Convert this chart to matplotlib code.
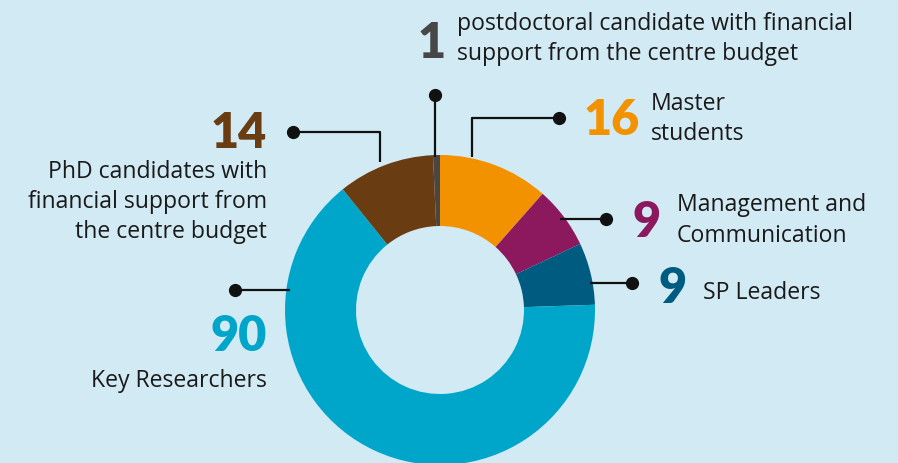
import matplotlib
matplotlib.use("Agg")
import matplotlib.pyplot as plt

# ---- data ----
categories = ["postdoc", "Master", "Management", "SP Leaders", "Key Researchers", "PhD"]
values = [1, 16, 9, 9, 90, 14]
colors = ["#474747", "#f39200", "#8c195e", "#005b80", "#00a6c9", "#6a3c12"]
numbers = ["1", "16", "9", "9", "90", "14"]
descriptions = [
    ["postdoctoral candidate with financial", "support from the centre budget"],
    ["Master", "students"],
    ["Management and", "Communication"],
    ["SP Leaders"],
    ["Key Researchers"],
    ["PhD candidates with", "financial support from", "the centre budget"],
]

BG = "#d2eaf3"
W, H = 898, 463
fig = plt.figure(figsize=(W / 100, H / 100), dpi=100, facecolor=BG)
ax = fig.add_axes([0, 0, 1, 1])
ax.set_facecolor(BG)

def Y(y):  # pixel-from-top -> data y
    return H - y

cx, cy, R, ring = 440, 310, 155, 71
total = sum(values)
start = 90 + 360 * values[0] / total
ax.pie(values, colors=colors, startangle=start, counterclock=False,
       center=(cx, Y(cy)), radius=R,
       wedgeprops=dict(width=ring, edgecolor="none", linewidth=0), frame=True)
ax.set_xlim(0, W)
ax.set_ylim(0, H)
ax.set_aspect("equal")
ax.axis("off")

num_font = "Lato"
txt_font = "Open Sans"
num_size = 35
txt_size = 16.6
lw = 1.6
ms = 8.5

# leader lines (pixel coords from top)
leaders = [
    [(435, 157), (435, 95)],
    [(472, 157), (472, 118), (559, 118)],
    [(560, 219), (606, 219)],
    [(590, 283), (632, 283)],
    [(290, 290), (235, 290)],
    [(380, 162), (380, 132), (293, 132)],
]
for pts in leaders:
    xs = [p[0] for p in pts]
    ys = [Y(p[1]) for p in pts]
    ax.plot(xs, ys, color="#111111", lw=lw, solid_capstyle="butt", zorder=3)
    ax.plot(xs[-1], ys[-1], "o", color="#111111", ms=ms, zorder=4)

# number positions: (x, baseline y, ha)
num_pos = [(418, 58, "left"), (584, 135, "left"), (632, 237, "left"),
           (658, 303, "left"), (267, 351, "right"), (267, 148, "right")]
# description positions: (x, [baselines], ha)
desc_pos = [(457, [30, 60], "left"), (651, [110, 140], "left"),
            (677, [211, 242], "left"), (703, [299], "left"),
            (267, [387], "right"), (267, [178, 208, 238], "right")]

for i in range(len(values)):
    x, yb, ha = num_pos[i]
    ax.text(x, Y(yb), numbers[i], color=colors[i], fontsize=num_size,
            fontweight="heavy", family=num_font, ha=ha, va="baseline")
    dx, ybs, dha = desc_pos[i]
    for line, b in zip(descriptions[i], ybs):
        ax.text(dx, Y(b), line, color="#1a1a1a", fontsize=txt_size,
                family=txt_font, ha=dha, va="baseline")

fig.savefig("out.png", dpi=100, facecolor=BG)
